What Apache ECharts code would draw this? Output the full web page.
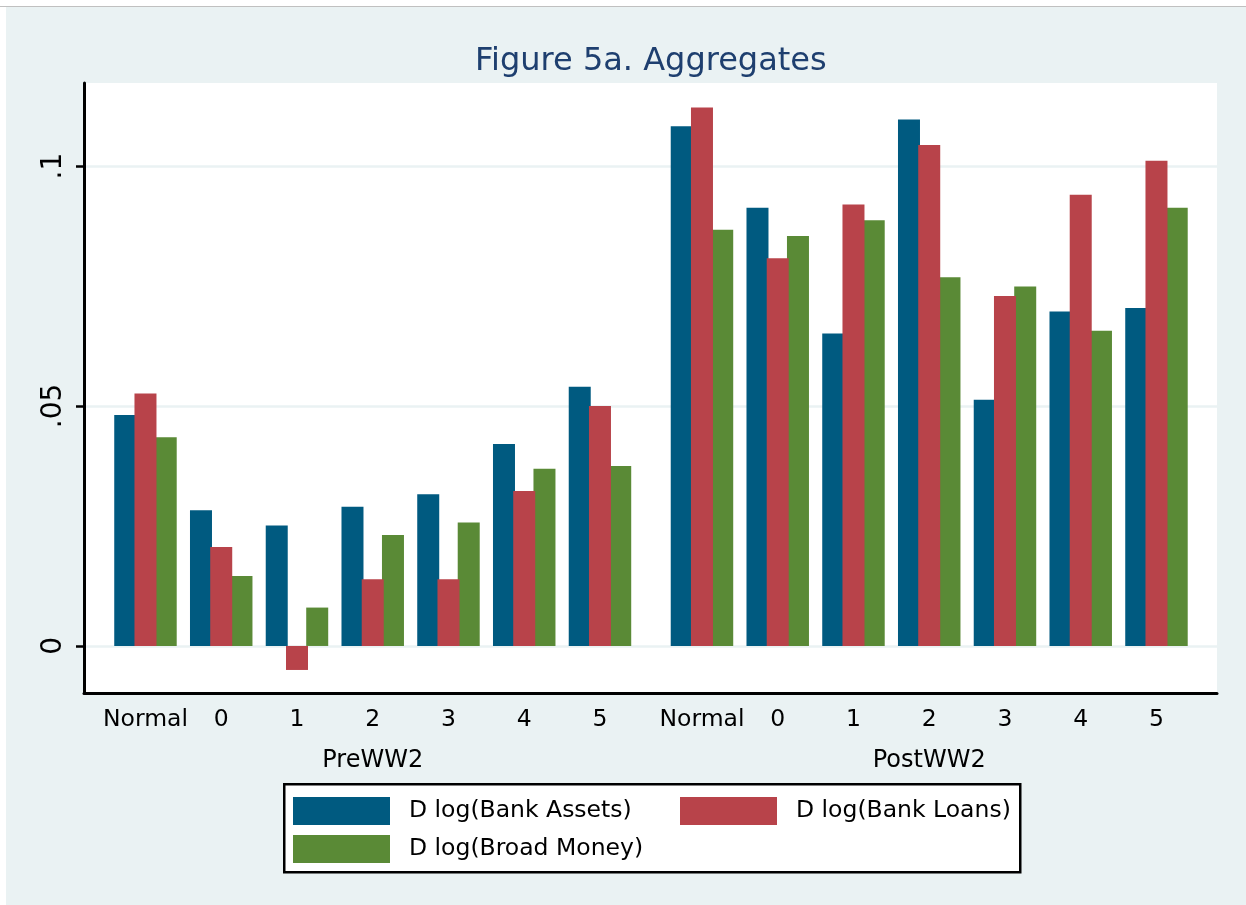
<!DOCTYPE html>
<html><head><meta charset="utf-8">
<script src="https://cdn.jsdelivr.net/npm/echarts@6/dist/echarts.min.js"></script>
<style>
html,body{margin:0;padding:0;background:#fff;width:1246px;height:905px;overflow:hidden}
#topline{position:absolute;left:0;top:6px;width:1246px;height:1px;background:#c0c0c0}
#chart{position:absolute;left:6px;top:7px;width:1240px;height:898px}
</style></head><body>
<div id="topline"></div><div id="chart"></div>
<script>
const categories = ['Normal', '0', '1', '2', '3', '4', '5'];
const periods = ['PreWW2', 'PostWW2'];
const yTicks = [0, 0.05, 0.1];
const yTickLabels = ['0', '.05', '.1'];
const seriesNames = ['D log(Bank Assets)', 'D log(Bank Loans)', 'D log(Broad Money)'];
const preAssets  = [0.0481, 0.0283, 0.0251, 0.0290, 0.0316, 0.0421, 0.0540];
const preLoans   = [0.0526, 0.0206, -0.0050, 0.0139, 0.0139, 0.0323, 0.0500];
const preMoney   = [0.0435, 0.0146, 0.0080, 0.0231, 0.0257, 0.0369, 0.0375];
const postAssets = [0.1083, 0.0913, 0.0651, 0.1097, 0.0513, 0.0697, 0.0704];
const postLoans  = [0.1122, 0.0808, 0.0920, 0.1044, 0.0729, 0.0940, 0.1011];
const postMoney  = [0.0867, 0.0854, 0.0887, 0.0768, 0.0749, 0.0657, 0.0913];

const colors = ['#005a80', '#b8434a', '#5a8a36'];
const FONT = 'DejaVu Sans';
const Y_MIN = -0.0098, Y_MAX = 0.1173;

const chart = echarts.init(document.getElementById('chart'), null, {renderer: 'canvas'});

function tickLabel(v) {
  for (let i = 0; i < yTicks.length; i++) if (Math.abs(yTicks[i] - v) < 1e-9) return yTickLabels[i];
  return '';
}

const barGrids = [
  {left: 101.6, top: 76, width: 530.25, height: 610},
  {left: 658.1, top: 76, width: 530.25, height: 610}
];

const grids = [
  {left: 78, top: 76, width: 1133, height: 610, show: true, backgroundColor: '#ffffff', borderWidth: 0, containLabel: false},
  Object.assign({show: false, containLabel: false}, barGrids[0]),
  Object.assign({show: false, containLabel: false}, barGrids[1])
];

const xAxes = [
  {gridIndex: 0, type: 'value', min: 0, max: 1, position: 'bottom',
   axisLine: {show: true, onZero: false, lineStyle: {color: '#000', width: 3}},
   axisTick: {show: false}, axisLabel: {show: false}, splitLine: {show: false}}
];
const yAxes = [
  {gridIndex: 0, type: 'value', min: Y_MIN, max: Y_MAX, position: 'left',
   axisLine: {show: true, lineStyle: {color: '#000', width: 3}},
   axisTick: {show: true, length: 8, lineStyle: {color: '#000', width: 2.5}, customValues: yTicks},
   axisLabel: {show: true, customValues: yTicks, formatter: tickLabel, rotate: 90, margin: 16,
     align: 'center', verticalAlign: 'bottom', fontFamily: FONT, fontSize: 28, color: '#000'},
   splitLine: {show: true, lineStyle: {color: '#eaf2f3', width: 2.5}}}
];
periods.forEach((p, i) => {
  xAxes.push({gridIndex: i + 1, type: 'category', data: categories, position: 'bottom',
    name: p, nameLocation: 'middle', nameGap: 56,
    nameTextStyle: {fontFamily: FONT, fontSize: 24, color: '#000'},
    axisLine: {show: false, onZero: false}, axisTick: {show: false},
    axisLabel: {show: true, margin: 15, fontFamily: FONT, fontSize: 23.5, color: '#000', interval: 0}});
  yAxes.push({gridIndex: i + 1, type: 'value', min: Y_MIN, max: Y_MAX, show: false,
    splitLine: {show: false}});
});

const dataSets = [[preAssets, preLoans, preMoney], [postAssets, postLoans, postMoney]];
const series = [];
dataSets.forEach((set, pi) => {
  set.forEach((vals, si) => {
    series.push({
      name: seriesNames[si], type: 'bar', xAxisIndex: pi + 1, yAxisIndex: pi + 1,
      data: vals, barWidth: 22, barGap: '-8%', z: si === 1 ? 4 : 3,
      itemStyle: {color: colors[si]}, animation: false
    });
  });
});

const legendCommon = {
  orient: 'vertical', itemWidth: 97, itemHeight: 28, itemGap: 10, padding: 0,
  icon: 'rect', selectedMode: false, z: 10,
  textStyle: {fontFamily: FONT, fontSize: 23.5, color: '#000', padding: [0, 0, 0, 14]}
};

chart.setOption({
  backgroundColor: '#eaf2f3',
  animation: false,
  color: colors,
  title: {text: 'Figure 5a. Aggregates', left: 469, top: 39, padding: 0,
    textStyle: {fontFamily: FONT, fontSize: 32, fontWeight: 'normal', color: '#1e3f6f'}},
  grid: grids,
  xAxis: xAxes,
  yAxis: yAxes,
  graphic: [{type: 'rect', left: 277, top: 776, z: 5,
    shape: {width: 736, height: 88},
    style: {fill: '#ffffff', stroke: '#000', lineWidth: 2.5}}],
  legend: [
    Object.assign({data: [seriesNames[0], seriesNames[2]], left: 287, top: 790}, legendCommon),
    Object.assign({data: [seriesNames[1]], left: 674, top: 790}, legendCommon)
  ],
  series: series
});
</script>
</body></html>
